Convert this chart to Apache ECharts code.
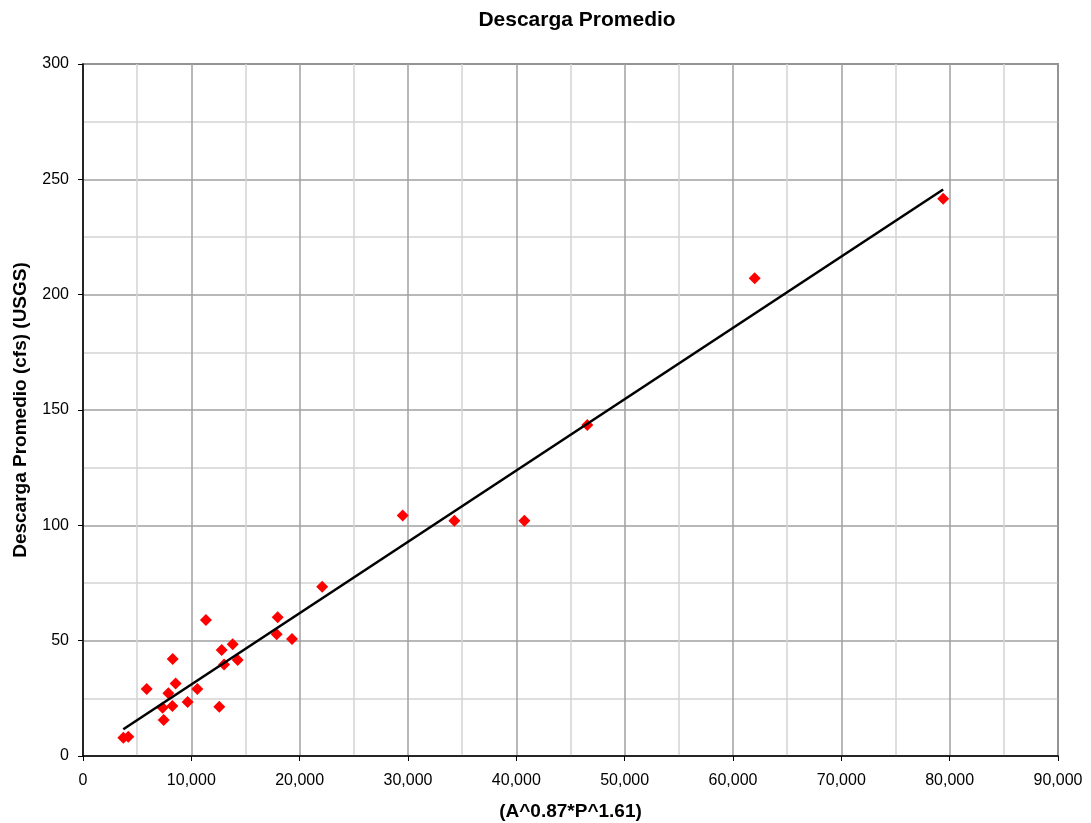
<!DOCTYPE html>
<html>
<head>
<meta charset="utf-8">
<script src="https://cdn.jsdelivr.net/npm/echarts@6/dist/echarts.min.js"></script>
<style>html,body{margin:0;padding:0;background:#fff}#c{width:1091px;height:823px}</style>
</head>
<body>
<div id="c"></div>
<script>
// Observed points: x = A^0.87*P^1.61, y = mean discharge (cfs, USGS)
const obsX = [3720, 4180, 5880, 8280, 8550, 7880, 7350, 8250, 7450, 9660, 10550, 11350, 12580, 12800, 13020, 13820, 14280, 17970, 17880, 19290, 22080, 29510, 34280, 40740, 46550, 62000, 79400];
const obsY = [7.9, 8.3, 29.0, 42.0, 31.4, 27.2, 20.9, 21.7, 15.6, 23.4, 29.0, 59.0, 21.4, 46.0, 39.7, 48.4, 41.6, 60.1, 52.8, 50.7, 73.4, 104.3, 102.0, 102.0, 143.5, 207.1, 241.6];
// Trend line endpoints
const trendX = [3720, 79400];
const trendY = [11.6, 245.6];
const xTicks = [0, 10000, 20000, 30000, 40000, 50000, 60000, 70000, 80000, 90000];
const yTicks = [0, 50, 100, 150, 200, 250, 300];

const chart = echarts.init(document.getElementById('c'), null, {renderer: 'canvas'});
const font = '"Liberation Sans", Arial, sans-serif';
chart.setOption({
  animation: false,
  backgroundColor: '#fff',
  title: {
    text: 'Descarga Promedio', left: 572, top: 5, textAlign: 'center',
    textStyle: {fontFamily: font, fontSize: 21, fontWeight: 'bold', color: '#000'}
  },
  grid: {left: 83, right: 33, top: 64, bottom: 67, containLabel: false, outerBoundsMode: 'none',
    show: true, borderColor: '#404040', borderWidth: 1.5, backgroundColor: 'transparent'},
  xAxis: {
    type: 'value', min: 0, max: 90000, interval: 10000,
    name: '(A^0.87*P^1.61)', nameLocation: 'middle', nameGap: 46,
    nameTextStyle: {fontFamily: font, fontSize: 19, fontWeight: 'bold', color: '#000'},
    axisLine: {show: true, onZero: false, lineStyle: {color: '#000', width: 1.5}},
    axisTick: {show: true, inside: false, length: 5, lineStyle: {color: '#000'}},
    axisLabel: {fontFamily: font, fontSize: 16, color: '#000', margin: 17,
      formatter: v => xTicks.includes(v) ? v.toLocaleString('en-US') : ''},
    splitLine: {show: true, lineStyle: {color: '#a0a0a0', width: 1.5}},
    minorTick: {show: false, splitNumber: 2},
    minorSplitLine: {show: true, lineStyle: {color: '#d4d4d4', width: 1.5}}
  },
  yAxis: {
    type: 'value', min: 0, max: 300, interval: 50,
    name: 'Descarga Promedio (cfs) (USGS)', nameLocation: 'middle', nameGap: 53, nameRotate: 90,
    nameTextStyle: {fontFamily: font, fontSize: 19, fontWeight: 'bold', color: '#000'},
    axisLine: {show: true, onZero: false, lineStyle: {color: '#000', width: 1.5}},
    axisTick: {show: true, inside: false, length: 5, lineStyle: {color: '#000'}},
    axisLabel: {fontFamily: font, fontSize: 16, color: '#000', margin: 14,
      formatter: v => yTicks.includes(v) ? String(v) : ''},
    splitLine: {show: true, lineStyle: {color: '#a0a0a0', width: 1.5}},
    minorTick: {show: false, splitNumber: 2},
    minorSplitLine: {show: true, lineStyle: {color: '#d4d4d4', width: 1.5}}
  },
  series: [
    {
      type: 'scatter', symbol: 'diamond', symbolSize: 12,
      itemStyle: {color: '#ff0000', opacity: 1},
      data: obsX.map((x, i) => [x, obsY[i]]), z: 3
    },
    {
      type: 'line', showSymbol: false, symbol: 'none',
      lineStyle: {color: '#000', width: 2.6},
      data: trendX.map((x, i) => [x, trendY[i]]), z: 4
    }
  ]
});
</script>
</body>
</html>
